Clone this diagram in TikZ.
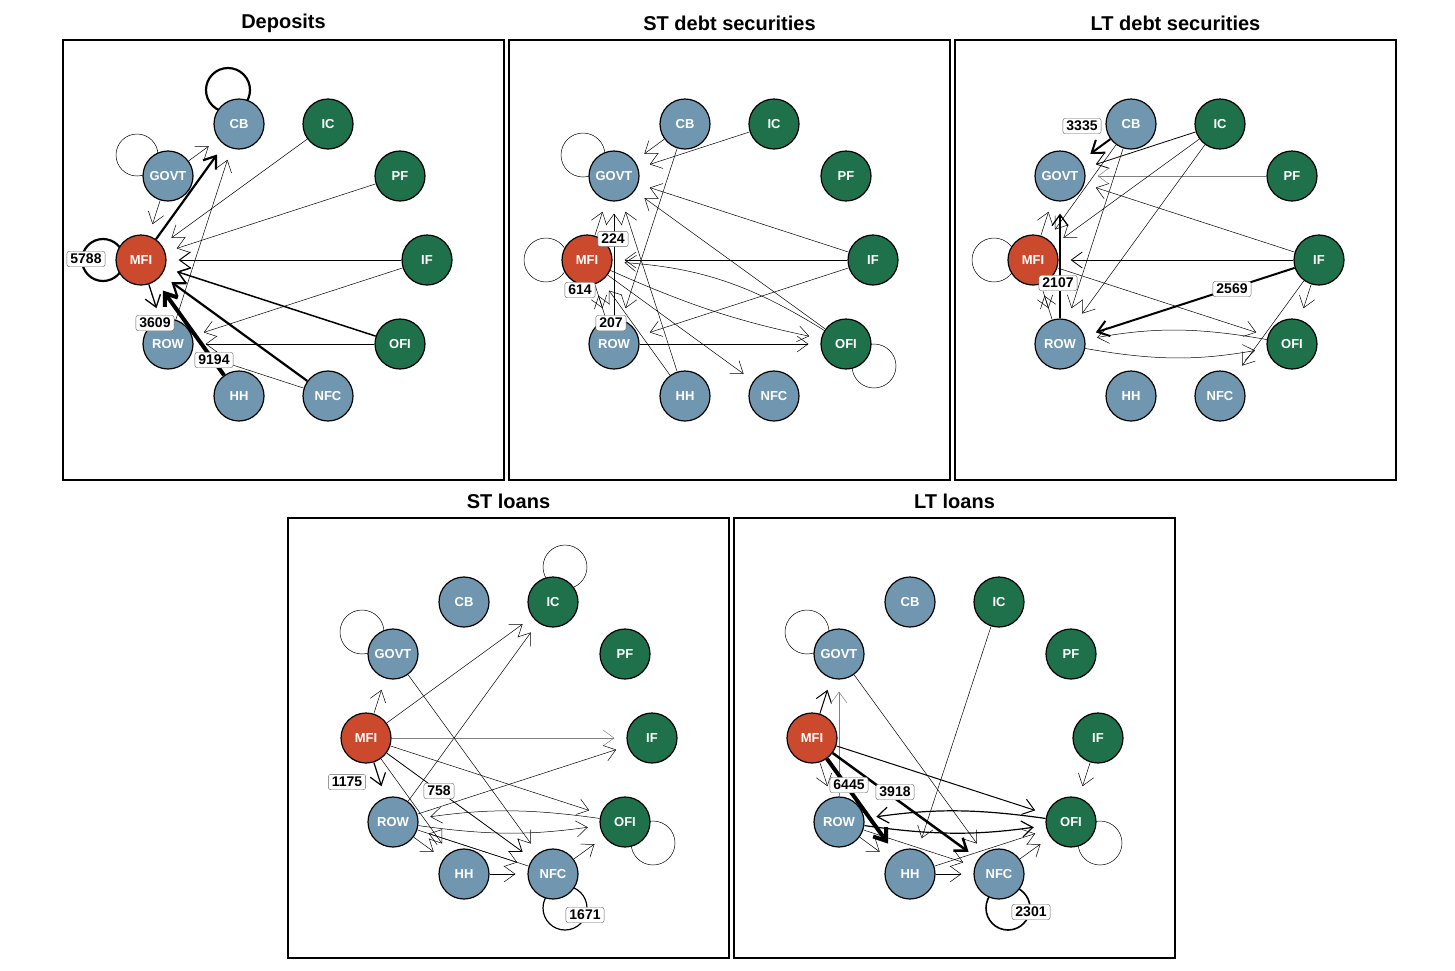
\documentclass[tikz,border=0pt]{standalone}
\usepackage{fontspec}
\setmainfont{Liberation Sans}
\usetikzlibrary{arrows.meta}
\pgfdeclarelayer{bg}
\pgfsetlayers{bg,main}
\definecolor{nblue}{HTML}{7097AF}
\definecolor{ngreen}{HTML}{1E714A}
\definecolor{nred}{HTML}{CB4A2E}
\tikzset{
  nd/.style={circle, draw=black, line width=1.2pt, minimum size=50pt, inner sep=0pt,
    text=white, font=\fontsize{13}{15}\selectfont\bfseries},
  bn/.style={nd, fill=nblue},
  gn/.style={nd, fill=ngreen},
  rn/.style={nd, fill=nred},
  box/.style={draw=black, line width=1.2pt},
  ttl/.style={font=\fontsize{20}{24}\selectfont\bfseries},
  ed/.style={line width=#1, -{Straight Barb[length=11pt,width=16pt]}, shorten >=12pt},
  ed/.default=0.5pt,
  lp/.style={line width=#1},
  lp/.default=0.5pt,
  lab/.style={draw=black!60, fill=white, rounded corners=2.5pt, inner xsep=3.5pt, inner ysep=2.8pt,
    font=\fontsize{14}{16}\selectfont\bfseries},
}
\newcommand\netpanel[4]{%
\begin{scope}[shift={(#2,#3)}]
\draw[box] (63,-40) rectangle (504,-480);
\node[ttl] (#1title) at (283.5,-23) {#4};
\node[bn] (#1CB) at (239,-124) {CB};
\node[gn] (#1IC) at (328,-124) {IC};
\node[gn] (#1PF) at (400,-176) {PF};
\node[gn] (#1IF) at (427,-260) {IF};
\node[gn] (#1OFI) at (400,-344) {OFI};
\node[bn] (#1NFC) at (328,-396) {NFC};
\node[bn] (#1HH) at (239,-396) {HH};
\node[bn] (#1ROW) at (168,-344) {ROW};
\node[rn] (#1MFI) at (141,-260) {MFI};
\node[bn] (#1GOVT) at (168,-176) {GOVT};
\end{scope}}
\begin{document}
\begin{tikzpicture}[x=1pt,y=1pt]
\useasboundingbox (0,0) rectangle (1455,-970);
\netpanel{A}{0}{0}{Deposits}
\netpanel{B}{446}{0}{ST debt securities}
\netpanel{C}{892}{0}{LT debt securities}
\netpanel{D}{225}{-478}{ST loans}
\netpanel{E}{671}{-478}{LT loans}
\begin{pgfonlayer}{bg}
% ---------- Deposits
\draw[lp=2.2pt] ([shift={(-11,34)}]ACB.center) circle[radius=22];
\draw[lp] ([shift={(-31,21)}]AGOVT.center) circle[radius=21];
\draw[lp=2.2pt] ([shift={(-38,0)}]AMFI.center) circle[radius=21];
\draw[ed=2.2pt] (AMFI) -- (ACB);
\draw[ed] (AGOVT) -- (ACB);
\draw[ed] (AROW) -- (ACB);
\draw[ed] (AGOVT) -- (AMFI);
\draw[ed=1.3pt] (AMFI) -- (AROW);
\draw[ed=4pt] (AHH) -- (AMFI);
\draw[ed=2.2pt] (ANFC) -- (AMFI);
\draw[ed] (AIC) -- (AMFI);
\draw[ed] (APF) -- (AMFI);
\draw[ed=1pt] (AIF) -- (AMFI);
\draw[ed=1.5pt] (AOFI) -- (AMFI);
\draw[ed] (AIF) -- (AROW);
\draw[ed] (AOFI) -- (AROW);
\draw[ed] (ANFC) -- (AROW);
% ---------- ST debt securities
\draw[lp] ([shift={(-31,21)}]BGOVT.center) circle[radius=22];
\draw[lp] ([shift={(-41,0)}]BMFI.center) circle[radius=22];
\draw[lp] ([shift={(28,-22)}]BOFI.center) circle[radius=22];
\draw[ed] (BIC) -- (BGOVT);
\draw[ed] (BCB) -- (BGOVT);
\draw[ed] (BIF) -- (BGOVT);
\draw[ed] (BOFI) -- (BGOVT);
\draw[ed] (BCB) -- (BROW);
\draw[ed] (BMFI) -- (BGOVT);
\draw[ed] (BROW) -- (BGOVT);
\draw[ed] (BHH) -- (BGOVT);
\draw[ed] (BMFI) -- (BROW);
\draw[ed] (BROW) -- (BMFI);
\draw[ed] (BHH) -- (BMFI);
\draw[ed] (BIF) -- (BMFI);
\draw[ed] (BOFI) to[bend right=14] (BMFI);
\draw[ed] (BMFI) to[bend right=6] (BOFI);
\draw[ed] (BIF) -- (BROW);
\draw[ed] (BMFI) -- (BNFC);
\draw[ed] (BROW) -- (BOFI);
% ---------- LT debt securities
\draw[lp] ([shift={(-39,0)}]CMFI.center) circle[radius=22];
\draw[ed=2pt] (CCB) -- (CGOVT);
\draw[ed=0.8pt] (CIC) -- (CGOVT);
\draw[ed, draw=gray] (CPF) -- (CGOVT);
\draw[ed] (CIF) -- (CGOVT);
\draw[ed] (CIC) -- (CMFI);
\draw[ed] (CCB) -- (CMFI);
\draw[ed] (CCB) -- (CROW);
\draw[ed] (CIC) -- (CROW);
\draw[ed] (CMFI) -- (CGOVT);
\draw[ed=1.3pt] (CROW) -- (CGOVT);
\draw[ed] (CMFI) -- (CROW);
\draw[ed] (CROW) -- (CMFI);
\draw[ed=0.8pt] (CIF) -- (CMFI);
\draw[ed] (CMFI) -- (COFI);
\draw[ed=2pt] (CIF) -- (CROW);
\draw[ed] (COFI) to[bend right=10] (CROW);
\draw[ed] (CROW) to[bend right=10] (COFI);
\draw[ed] (CIF) -- (COFI);
\draw[ed] (CIF) -- (CNFC);
% ---------- ST loans
\draw[lp] ([shift={(12,35)}]DIC.center) circle[radius=22];
\draw[lp] ([shift={(-31,22)}]DGOVT.center) circle[radius=22];
\draw[lp] ([shift={(28,-21)}]DOFI.center) circle[radius=22];
\draw[lp=1.2pt] ([shift={(12,-34)}]DNFC.center) circle[radius=22];
\draw[ed] (DMFI) -- (DGOVT);
\draw[ed=1.2pt] (DMFI) -- (DROW);
\draw[ed] (DMFI) -- (DIC);
\draw[ed] (DROW) -- (DIC);
\draw[ed, draw=gray] (DMFI) -- (DIF);
\draw[ed] (DROW) -- (DIF);
\draw[ed] (DMFI) -- (DOFI);
\draw[ed] (DOFI) to[bend right=8] (DROW);
\draw[ed] (DROW) to[bend right=8] (DOFI);
\draw[ed] (DMFI) -- (DHH);
\draw[ed=0.8pt] (DMFI) -- (DNFC);
\draw[ed] (DGOVT) -- (DNFC);
\draw[ed] (DNFC) -- (DROW);
\draw[ed] (DHH) -- (DNFC);
\draw[ed] (DROW) -- (DHH);
\draw[ed] (DNFC) -- (DOFI);
\draw[ed] (DROW) -- (DNFC);
% ---------- LT loans
\draw[lp] ([shift={(-32,22)}]EGOVT.center) circle[radius=22];
\draw[lp] ([shift={(29,-21)}]EOFI.center) circle[radius=22];
\draw[lp=1.6pt] ([shift={(9,-34)}]ENFC.center) circle[radius=22];
\draw[ed=1pt] (EMFI) -- (EGOVT);
\draw[ed, draw=gray] (EROW) -- (EGOVT);
\draw[ed] (EMFI) -- (EROW);
\draw[ed=4pt] (EMFI) -- (EHH);
\draw[ed=2.5pt] (EMFI) -- (ENFC);
\draw[ed=1pt] (EMFI) -- (EOFI);
\draw[ed=1.2pt] (EOFI) to[bend right=8] (EROW);
\draw[ed=1.2pt] (EROW) to[bend right=8] (EOFI);
\draw[ed] (EGOVT) -- (ENFC);
\draw[ed] (EIC) -- (EHH);
\draw[ed] (EIF) -- (EOFI);
\draw[ed] (EROW) -- (EHH);
\draw[ed] (EHH) -- (ENFC);
\draw[ed] (EROW) -- (ENFC);
\draw[ed] (ENFC) -- (EOFI);
\draw[ed] (EHH) -- (EOFI);
\end{pgfonlayer}
% ---------- labels
\node[lab] (l5788) at (86,-259) {5788};
\node[lab] (l3609) at (155,-323) {3609};
\node[lab] (l9194) at (214,-360) {9194};
\node[lab] (l224) at (613,-239) {224};
\node[lab] (l614) at (580,-290) {614};
\node[lab] (l207) at (611,-323) {207};
\node[lab] (l3335) at (1082,-126) {3335};
\node[lab] (l2107) at (1058,-283) {2107};
\node[lab] (l2569) at (1232,-289) {2569};
\node[lab] (l1175) at (347,-782) {1175};
\node[lab] (l758) at (439,-791) {758};
\node[lab] (l1671) at (585,-915) {1671};
\node[lab] (l6445) at (849,-785) {6445};
\node[lab] (l3918) at (895,-792) {3918};
\node[lab] (l2301) at (1031,-912) {2301};
\end{tikzpicture}
\end{document}
